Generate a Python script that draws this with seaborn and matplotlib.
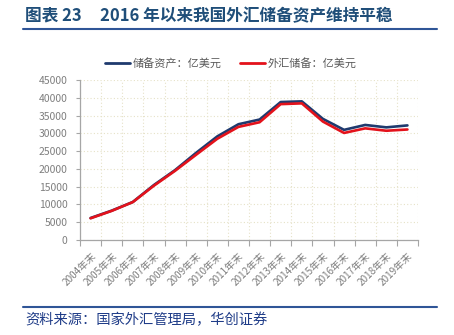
import numpy as np
import pandas as pd
import matplotlib
matplotlib.use("Agg")
import matplotlib.pyplot as plt
from matplotlib.lines import Line2D
import seaborn as sns

years = ["2004年末", "2005年末", "2006年末", "2007年末", "2008年末", "2009年末",
         "2010年末", "2011年末", "2012年末", "2013年末", "2014年末", "2015年末",
         "2016年末", "2017年末", "2018年末", "2019年末"]
reserve_assets = [6186, 8257, 10693, 15473, 19662, 24532, 29142, 32558, 33879,
                  38804, 38993, 34061, 30978, 32359, 31680, 32229]
fx_reserves = [6099, 8189, 10663, 15282, 19460, 23992, 28473, 31811, 33116,
               38213, 38430, 33304, 30105, 31399, 30727, 31079]
series_names = ["储备资产：亿美元", "外汇储备：亿美元"]
y_ticks = [0, 5000, 10000, 15000, 20000, 25000, 30000, 35000, 40000, 45000]
title_label = "图表 23"
title_text = "2016 年以来我国外汇储备资产维持平稳"
source = "资料来源：国家外汇管理局，华创证券"

sns.set_theme(style="white")
plt.rcParams['font.family'] = ['Noto Sans CJK SC', 'DejaVu Sans']

df = pd.DataFrame({
    "x": list(range(len(years))) * 2,
    "value": reserve_assets + fx_reserves,
    "series": [series_names[0]] * len(years) + [series_names[1]] * len(years),
})
colors = {series_names[0]: "#1F3A6E", series_names[1]: "#E3121B"}

fig = plt.figure(figsize=(4.54, 3.35), dpi=100)
ax = fig.add_axes([80 / 454, 1 - 240 / 335, 338 / 454, 160 / 335])
sns.lineplot(data=df, x="x", y="value", hue="series", palette=colors, ax=ax,
             linewidth=1.9, legend=False)

ax.set_xlim(-0.5, len(years) - 0.5)
ax.set_ylim(0, 45000)
ax.set_yticks(y_ticks)
ax.set_yticklabels([str(v) for v in y_ticks])
ax.set_xticks(range(len(years)))
ax.set_xticklabels(years, rotation=45, ha="right", rotation_mode="anchor")
ax.set_xticks(np.arange(-0.5, len(years), 1.0), minor=True)
ax.set_xlabel("")
ax.set_ylabel("")

ax.tick_params(axis="x", which="major", length=0, labelsize=7.2, colors="#7F7F7F", pad=8)
ax.tick_params(axis="x", which="minor", length=4, width=0.8, color="#A6A6A6", direction="out", bottom=True)
ax.tick_params(axis="y", length=3, width=0.8, color="#A6A6A6", labelsize=7.5, labelcolor="#7F7F7F", pad=6, left=True)

ax.grid(False)
ax.yaxis.grid(True, color="#E6E2C8", linestyle=(0, (1, 2)), linewidth=0.8)
ax.xaxis.grid(True, which="minor", color="#E6E2C8", linestyle=(0, (1, 2)), linewidth=0.8)
ax.set_axisbelow(True)

for s in ["top", "right"]:
    ax.spines[s].set_visible(False)
for s in ["left", "bottom"]:
    ax.spines[s].set_color("#A6A6A6")
    ax.spines[s].set_linewidth(0.9)

handles = [Line2D([], [], color=colors[n], linewidth=2.0) for n in series_names]
fig.legend(handles, series_names, loc="center", ncol=2, frameon=False,
           bbox_to_anchor=(231 / 454, 1 - 63 / 335), fontsize=8,
           handlelength=2.2, handletextpad=0.25, columnspacing=1.7,
           labelcolor="#595959")

fig.text(25 / 454, 1 - 16 / 335, title_label, fontsize=12, fontweight="bold",
         color="#1F4E79", ha="left", va="center")
fig.text(100 / 454, 1 - 16 / 335, title_text, fontsize=12, fontweight="bold",
         color="#1F4E79", ha="left", va="center")
fig.add_artist(Line2D([23 / 454, 437 / 454], [1 - 29 / 335, 1 - 29 / 335],
                      color="#2F5597", linewidth=1.5))
fig.add_artist(Line2D([23 / 454, 437 / 454], [1 - 307 / 335, 1 - 307 / 335],
                      color="#2F5597", linewidth=1.5))
fig.text(25 / 454, 1 - 320 / 335, source, fontsize=10.3, style="italic",
         color="#1F3C88", ha="left", va="center")

fig.savefig("out.png", dpi=100)
